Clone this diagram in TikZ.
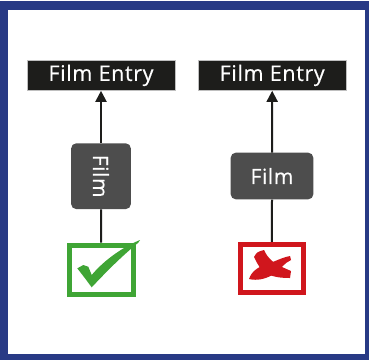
\documentclass[tikz,border=0pt]{standalone}
\usepackage{fontspec}
\setmainfont{Open Sans}
\usetikzlibrary{positioning, arrows.meta}
\tikzset{>={Triangle[width=11pt,length=11pt]}}
\definecolor{frameblue}{HTML}{283A85}
\definecolor{entryblack}{HTML}{1D1D1B}
\definecolor{filmgray}{HTML}{4D4D4D}
\definecolor{okgreen}{HTML}{3FA535}
\definecolor{badred}{HTML}{D0161D}

\begin{document}
\begin{tikzpicture}[x=1pt, y=1pt,
    entry/.style = {fill=entryblack, draw=gray!50, line width=0.5pt, text=white,
      minimum width=148pt, minimum height=30.5pt, inner sep=0pt,
      font=\fontsize{21.5}{20}\selectfont\addfontfeatures{LetterSpace=3,FakeBold=0.4}},
    film/.style = {fill=filmgray, text=white, rounded corners=5pt, inner sep=0pt,
      font=\fontsize{21}{20}\selectfont\addfontfeatures{LetterSpace=3,FakeBold=0.4}},
    tickbox/.style = {draw, line width=5pt, minimum width=64pt, minimum height=49pt, inner sep=0pt},
    link/.style = {line width=2pt, draw=entryblack}]
    \useasboundingbox (0,0) rectangle (369,-360);
    \fill[frameblue] (0,-1.3) rectangle (369,-360);
    \fill[white] (8,-10) rectangle (364.5,-353.5);

    % left: allowed
    \node[entry] (entryA) at (101,-75.3) {Film Entry};
    \node[film, minimum width=59.7pt, minimum height=65.7pt] (filmA) at (101,-176.2) {};
    \node[rotate=-90, text=white, inner sep=0pt, font=\fontsize{21}{20}\selectfont\addfontfeatures{LetterSpace=3,FakeBold=0.4}] (filmAtext) at (filmA) {Film};
    \node[tickbox, draw=okgreen] (boxA) at (101.2,-269.5) {};
    \draw[link, ->] (filmA.north) -- (entryA.south);
    \draw[link] (filmA.south) -- (boxA.north);
    \fill[okgreen] (77.3,-268.3) .. controls (80,-266) .. (83.3,-265) -- (88.3,-266.7)
      -- (91.7,-275) .. controls (105,-259) and (125,-246) .. (140,-240)
      -- (138.3,-242.7) .. controls (122,-256) and (108,-270) .. (91.7,-287.3)
      .. controls (88,-282) .. (85,-278.3) -- cycle;

    % right: not allowed
    \node[entry] (entryB) at (272.2,-75.3) {Film Entry};
    \node[film, minimum width=82.6pt, minimum height=46.6pt] (filmB) at (272,-176) {Film};
    \node[tickbox, draw=badred, minimum width=63pt, minimum height=48.5pt] (boxB) at (271.9,-268.5) {};
    \draw[link, ->] (filmB.north) -- (entryB.south);
    \draw[link] (filmB.south) -- (boxB.north);
    \fill[badred] (254,-257) .. controls (257,-252) .. (264,-250)
      .. controls (268,-259) and (275,-264) .. (282,-267)
      .. controls (286,-269) .. (291,-271) -- (290,-278)
      .. controls (281,-278) and (272,-277) .. (266,-273)
      .. controls (259,-267) .. (254,-257) -- cycle;
    \fill[badred] (249,-279) .. controls (252,-270) and (260,-266) .. (270,-263)
      .. controls (278,-260) and (284,-257) .. (290,-256) -- (291,-260)
      .. controls (284,-263) and (280,-270) .. (274,-274)
      .. controls (266,-279) and (257,-281) .. (249,-279) -- cycle;
\end{tikzpicture}
\end{document}
